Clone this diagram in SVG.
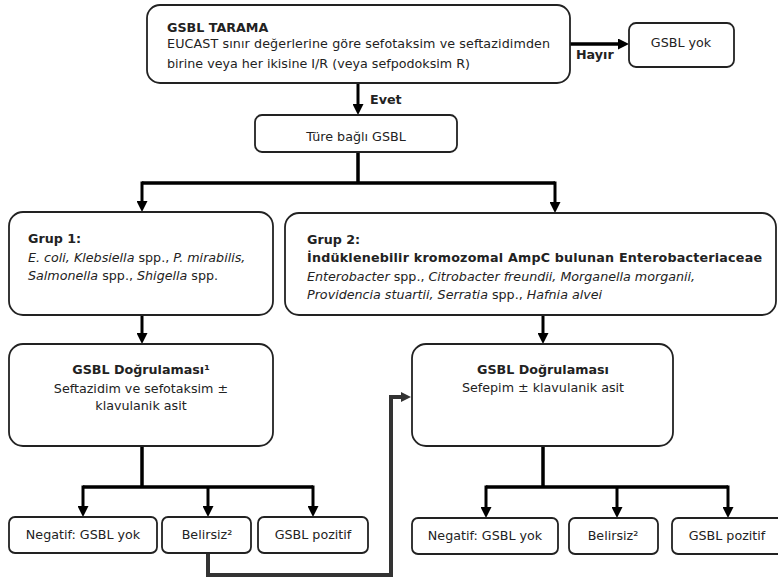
<svg xmlns="http://www.w3.org/2000/svg" width="778" height="580" viewBox="0 0 778 580">
<defs>
<style>
.box{fill:#fff;stroke:#222;stroke-width:1.8}
text{font-family:"DejaVu Sans","Verdana",sans-serif;font-size:12.7px;fill:#222}
.b{font-weight:bold}
.i{font-style:italic}
.c{text-anchor:middle}
.ln{fill:none;stroke:#000;stroke-width:3.5}
.ln3{fill:none;stroke:#000;stroke-width:3}
.gr{fill:none;stroke:#333;stroke-width:4}
</style>
<marker id="ah" markerUnits="userSpaceOnUse" markerWidth="11" markerHeight="11" refX="0" refY="5" orient="auto" viewBox="0 0 10 10">
<path d="M0,0 L10,5 L0,10 z" fill="#000"/>
</marker>
<marker id="ahg" markerUnits="userSpaceOnUse" markerWidth="10" markerHeight="10" refX="0" refY="5" orient="auto" viewBox="0 0 10 10">
<path d="M0,0 L10,5 L0,10 z" fill="#333"/>
</marker>
</defs>
<rect width="778" height="580" fill="#fff"/>

<g id="connectors">
<path class="ln" d="M570,44 H618" marker-end="url(#ah)"/>
<path class="ln3" d="M358,83 V104" marker-end="url(#ah)"/>
<path class="ln" d="M358,152 V183 M142,183 H555"/>
<path class="ln3" d="M142,181.5 V201" marker-end="url(#ah)"/>
<path class="ln3" d="M555,181.5 V202" marker-end="url(#ah)"/>
<path class="ln3" d="M142,315 V333" marker-end="url(#ah)"/>
<path class="ln3" d="M543,315 V333" marker-end="url(#ah)"/>
<path class="ln" d="M142,446 V487 M83,487 H313"/>
<path class="ln3" d="M83,485.5 V506" marker-end="url(#ah)"/>
<path class="ln3" d="M208,487 V506" marker-end="url(#ah)"/>
<path class="ln3" d="M313,485.5 V506" marker-end="url(#ah)"/>
<path class="ln" d="M543,446 V487 M486,487 H728"/>
<path class="ln3" d="M486,485.5 V507" marker-end="url(#ah)"/>
<path class="ln3" d="M617,487 V507" marker-end="url(#ah)"/>
<path class="ln3" d="M728,485.5 V507" marker-end="url(#ah)"/>
<path class="gr" d="M208,553 V575 H391 V397 H401" marker-end="url(#ahg)"/>
<text class="b" x="576" y="59">Hayır</text>
<text class="b" x="370" y="104">Evet</text>
</g>

<g id="tarama">
<rect class="box" x="147" y="5" width="423" height="78" rx="13"/>
<text class="b" x="167" y="32">GSBL TARAMA</text>
<text x="167" y="48" textLength="383" lengthAdjust="spacing">EUCAST sınır değerlerine göre sefotaksim ve seftazidimden</text>
<text x="167" y="68">birine veya her ikisine I/R (veya sefpodoksim R)</text>
</g>

<g id="gsbl-yok">
<rect class="box" x="629" y="23" width="105" height="44" rx="7"/>
<text class="c" x="681" y="47">GSBL yok</text>
</g>

<g id="ture">
<rect class="box" x="255" y="115" width="202" height="37" rx="7"/>
<text class="c" x="356" y="141">Türe bağlı GSBL</text>
</g>

<g id="grup1">
<rect class="box" x="9" y="212" width="264" height="103" rx="14"/>
<text class="b" x="28" y="243">Grup 1:</text>
<text x="28" y="262"><tspan class="i">E. coli, Klebsiella</tspan> spp., <tspan class="i">P. mirabilis,</tspan></text>
<text x="28" y="280"><tspan class="i">Salmonella</tspan> spp., <tspan class="i">Shigella</tspan> spp.</text>
</g>

<g id="grup2">
<rect class="box" x="285" y="213" width="491" height="102" rx="14"/>
<text class="b" x="307" y="244">Grup 2:</text>
<text class="b" x="307" y="262" textLength="455" lengthAdjust="spacing">İndüklenebilir kromozomal AmpC bulunan Enterobacteriaceae</text>
<text x="307" y="281"><tspan class="i">Enterobacter</tspan> spp., <tspan class="i">Citrobacter freundii, Morganella morganii,</tspan></text>
<text x="307" y="299"><tspan class="i">Providencia stuartii, Serratia</tspan> spp., <tspan class="i">Hafnia alvei</tspan></text>
</g>

<g id="dogrulama1">
<rect class="box" x="9" y="344" width="264" height="102" rx="14"/>
<text class="b c" x="141" y="374">GSBL Doğrulaması¹</text>
<text class="c" x="141" y="393">Seftazidim ve sefotaksim ±</text>
<text class="c" x="141" y="410">klavulanik asit</text>
</g>

<g id="dogrulama2">
<rect class="box" x="412" y="344" width="261" height="102" rx="14"/>
<text class="b c" x="543" y="374">GSBL Doğrulaması</text>
<text class="c" x="543" y="392">Sefepim ± klavulanik asit</text>
</g>

<g id="negatif1">
<rect class="box" x="9" y="517" width="148" height="36" rx="6"/>
<text class="c" x="83" y="539">Negatif: GSBL yok</text>
</g>
<g id="belirsiz1">
<rect class="box" x="162" y="517" width="89" height="36" rx="6"/>
<text class="c" x="207" y="539">Belirsiz²</text>
</g>
<g id="pozitif1">
<rect class="box" x="258" y="517" width="110" height="36" rx="6"/>
<text class="c" x="313" y="539">GSBL pozitif</text>
</g>

<g id="negatif2">
<rect class="box" x="412" y="518" width="146" height="36" rx="6"/>
<text class="c" x="485" y="540">Negatif: GSBL yok</text>
</g>
<g id="belirsiz2">
<rect class="box" x="569" y="518" width="89" height="36" rx="6"/>
<text class="c" x="613" y="540">Belirsiz²</text>
</g>
<g id="pozitif2">
<rect class="box" x="672" y="518" width="112" height="36" rx="6"/>
<text class="c" x="727" y="540">GSBL pozitif</text>
</g>
</svg>
